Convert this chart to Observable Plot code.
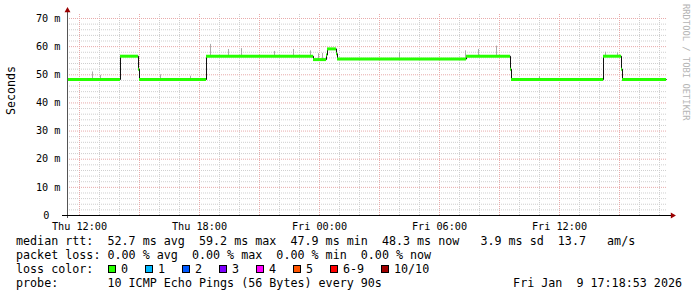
<!DOCTYPE html>
<html><head><meta charset="utf-8">
<script src="https://cdn.jsdelivr.net/npm/d3@7"></script>
<script src="https://cdn.jsdelivr.net/npm/@observablehq/plot@0.6"></script>
<style>
html,body{margin:0;padding:0;background:#fff;}
#wrap{position:relative;width:697px;height:297px;overflow:hidden;font-family:"DejaVu Sans Mono",monospace;}
#wrap svg{position:absolute;left:0;top:0;}
.row{position:absolute;font-size:11.7px;line-height:14px;white-space:pre;color:#000;}
.sq{position:absolute;width:6px;height:6px;border:1px solid #000;}
.wm{position:absolute;left:681px;top:4px;writing-mode:vertical-rl;font-size:8.8px;color:#b4b4b4;white-space:pre;line-height:10px;}
</style></head><body><div id="wrap"></div>
<script>
// ---- data ----
const startTime = "2026-01-08T11:24:00Z";
const endTime   = "2026-01-09T17:24:00Z";
const segStart = ["2026-01-08T11:24:00Z","2026-01-08T14:03:00Z","2026-01-08T14:57:00Z","2026-01-08T15:00:00Z",
  "2026-01-08T18:21:00Z","2026-01-08T23:42:00Z","2026-01-09T00:21:00Z","2026-01-09T00:24:00Z",
  "2026-01-09T00:51:00Z","2026-01-09T00:54:00Z","2026-01-09T07:21:00Z","2026-01-09T09:33:00Z",
  "2026-01-09T09:36:00Z","2026-01-09T14:12:00Z","2026-01-09T15:06:00Z","2026-01-09T15:09:00Z"];
const lastSample = "2026-01-09T17:21:00Z";
const medianMs = [48.3, 56.6, 52.0, 48.3, 56.6, 55.4, 57.0, 59.2, 57.5, 55.6, 56.6, 52.0, 48.3, 56.6, 52.0, 48.3];
const smokeTime = ["2026-01-08T12:39:00Z","2026-01-08T13:03:00Z","2026-01-08T16:03:00Z","2026-01-08T17:33:00Z",
  "2026-01-08T18:33:00Z","2026-01-08T19:27:00Z","2026-01-08T20:06:00Z","2026-01-08T21:45:00Z","2026-01-08T22:42:00Z",
  "2026-01-08T23:33:00Z","2026-01-08T23:57:00Z","2026-01-09T00:09:00Z","2026-01-09T04:00:00Z","2026-01-09T07:18:00Z",
  "2026-01-09T07:57:00Z","2026-01-09T08:51:00Z","2026-01-09T11:00:00Z","2026-01-09T14:18:00Z","2026-01-09T14:54:00Z"];
const smokeTop = [51.0, 49.8, 50.0, 49.5, 60.8, 59.0, 59.3, 58.3, 59.0, 58.5, 57.5, 57.6, 58.0, 58.5, 59.0, 60.2, 49.4, 58.0, 57.8];
const yTicks = [10, 20, 30, 40, 50, 60, 70];
const yZero = [0];
const yMinor = [2,4,6,8,12,14,16,18,22,24,26,28,32,34,36,38,42,44,46,48,52,54,56,58,62,64,66,68,70.0001];
const xTickTimes = ["2026-01-08T12:00:00Z","2026-01-08T18:00:00Z","2026-01-09T00:00:00Z","2026-01-09T06:00:00Z","2026-01-09T12:00:00Z"];
const xTickLabels = ["Thu 12:00","Thu 18:00","Fri 00:00","Fri 06:00","Fri 12:00"];
const statsRtt  = "median rtt:  52.7 ms avg  59.2 ms max  47.9 ms min  48.3 ms now   3.9 ms sd  13.7   am/s";
const statsLoss = "packet loss: 0.00 % avg  0.00 % max  0.00 % min  0.00 % now";
const lossLabels = ["0","1","2","3","4","5","6-9","10/10"];
const lossColors = ["#26ff00","#00b8ff","#0059ff","#7e00ff","#ff00ff","#ff5500","#ff0000","#a10000"];
const probeText = "probe:       10 ICMP Echo Pings (56 Bytes) every 90s";
const dateText = "Fri Jan  9 17:18:53 2026";
const watermark = "RRDTOOL / TOBI OETIKER";

// ---- build ----
const t0 = new Date(startTime), t1 = new Date(endTime);
const segs = segStart.map((s, i) => ({
  a: new Date(s),
  b: new Date(i + 1 < segStart.length ? segStart[i + 1] : lastSample),
  v: medianMs[i]
}));
const linePts = segs.map(d => ({t: d.a, v: d.v})).concat([{t: new Date(lastSample), v: medianMs[medianMs.length - 1]}]);
const medianAt = t => { let v = medianMs[0]; segs.forEach(s => { if (s.a <= t) v = s.v; }); return v; };
const smoke = smokeTime.map((s, i) => { const t = new Date(s); return {t, lo: medianAt(t), hi: smokeTop[i]}; });
const hours = d3.utcHour.range(d3.utcHour.ceil(t0), t1);
const majorHours = hours.filter(h => h.getUTCHours() % 3 === 0);
const minorHours = hours.filter(h => h.getUTCHours() % 3 !== 0);
const xTicks = xTickTimes.map(s => new Date(s));

const chart = Plot.plot({
  width: 697, height: 232,
  marginLeft: 67, marginRight: 30, marginTop: 14, marginBottom: 17,
  x: {type: "utc", domain: [t0, t1]},
  y: {domain: [0, 71.42]},
  style: {fontFamily: "'DejaVu Sans Mono', monospace", fontSize: "10.2px", color: "#000", background: "transparent", overflow: "visible"},
  marks: [
    Plot.ruleY(yMinor, {stroke: "#cfcfcf", strokeDasharray: "1,1"}),
    Plot.ruleX(minorHours, {stroke: "#cfcfcf", strokeDasharray: "1,1"}),
    Plot.ruleY(yTicks, {stroke: "#e8aaaa", strokeDasharray: "1,1"}),
    Plot.ruleX(majorHours, {stroke: "#e8aaaa", strokeDasharray: "1,1"}),
    Plot.ruleX(smoke, {x: "t", y1: "lo", y2: "hi", stroke: "#aaaaaa"}),
    Plot.line(linePts, {x: "t", y: "v", curve: "step-after", stroke: "#111", strokeWidth: 1}),
    Plot.ruleY(segs, {x1: "a", x2: "b", y: "v", stroke: "#26ff00", strokeWidth: 3}),
    Plot.ruleX([t0], {stroke: "#555", strokeWidth: 1, insetTop: -3, insetBottom: -3}),
    Plot.ruleY([0], {stroke: "#000", strokeWidth: 1, insetLeft: -5, insetRight: -4}),
    Plot.dot([t0], {x: d => d, frameAnchor: "top", dy: -4, symbol: "triangle", r: 2.2, fill: "#9b0000", stroke: null}),
    Plot.dot([t1], {x: d => d, y: () => 0, dx: 5, symbol: "triangle", rotate: 90, r: 2.2, fill: "#9b0000", stroke: null}),
    Plot.axisY(yTicks, {tickSize: 0, tickPadding: 7, tickFormat: d => `${d} m`, label: null}),
    Plot.axisY(yZero, {tickSize: 0, tickPadding: 18, tickFormat: () => "0", label: null}),
    Plot.axisX(xTicks, {tickSize: 0, tickPadding: 7, tickFormat: (d, i) => xTickLabels[i], label: null}),
    Plot.text(["Seconds"], {frameAnchor: "left", dx: -56, rotate: -90, fontSize: 11.6})
  ]
});
const wrap = document.getElementById("wrap");
wrap.appendChild(chart);

function addRow(text, left, top, extra) {
  const d = document.createElement("div");
  d.className = "row"; d.textContent = text;
  d.style.top = top + "px";
  if (left != null) d.style.left = left + "px";
  if (extra) Object.assign(d.style, extra);
  wrap.appendChild(d);
  return d;
}
addRow(statsRtt, 16, 233.5);
addRow(statsLoss, 16, 247.5);
addRow("loss color:", 16, 261.5);
let sx = 108;
lossLabels.forEach((lab, i) => {
  const q = document.createElement("div");
  q.className = "sq"; q.style.left = sx + "px"; q.style.top = "265px"; q.style.background = lossColors[i];
  wrap.appendChild(q);
  addRow(lab, sx + 13, 261.5);
  sx += 30 + lab.length * 7;
});
addRow(probeText, 16, 275.5);
addRow(dateText, null, 275.5, {right: "15px"});
const wm = document.createElement("div");
wm.className = "wm"; wm.textContent = watermark;
wrap.appendChild(wm);
</script>
</body></html>
